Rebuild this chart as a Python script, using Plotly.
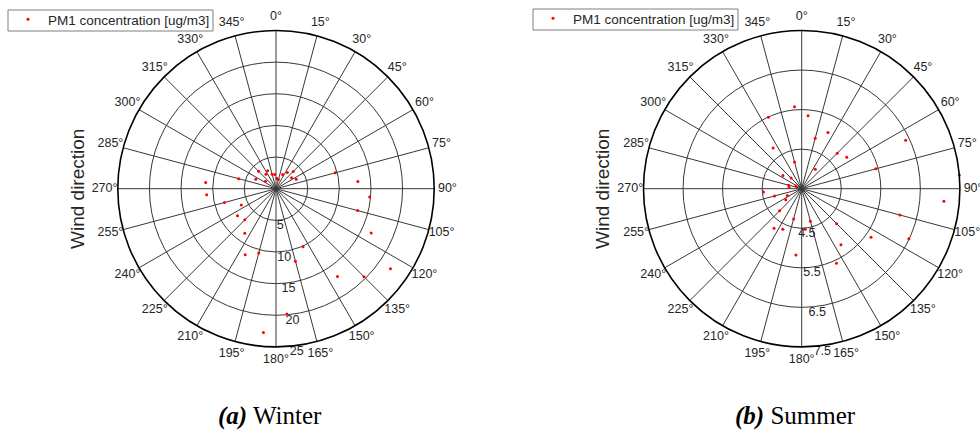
import plotly.graph_objects as go

# Wind direction bins (degrees, clockwise from north), 10-degree bins
directions = [5, 15, 25, 35, 45, 55, 65, 75, 85, 95, 105, 115,
              125, 135, 145, 155, 165, 175, 185, 195, 205, 215, 225, 235,
              245, 255, 265, 275, 285, 295, 305, 315, 325, 335, 345, 355]

# Mean PM1 concentration per direction bin [ug/m3]
pm1_winter = [1.6, 1.5, 2.48, 3.13, 3.85, 3.0, 3.52, 9.69, 12.99, 14.85, 13.35, 16.6,
              22.08, 19.65, 16.94, 10.12, 11.85, 19.87, 22.81, 10.54, 11.52, 8.6, 6.96, 7.43,
              6.05, 8.44, 11.0, 11.15, 6.1, 3.53, 2.03, 3.89, 2.77, 3.11, 2.37, 2.24]

pm1_summer = [5.35, 4.82, 5.07, 4.10, 4.77, 4.89, 6.40, 5.44, 7.50, 7.11, 6.07, 6.49,
              5.64, 4.75, 5.23, 5.58, 4.35, 4.53, 5.18, 4.29, 4.63, 4.72, 4.29, 3.99,
              3.90, 4.21, 4.47, 3.82, 3.84, 3.66, 4.08, 3.88, 4.76, 5.49, 4.20, 5.58]

winter_range = [0, 25]
winter_ticks = [5, 10, 15, 20, 25]
summer_range = [3.5, 7.5]
summer_ticks = [4.5, 5.5, 6.5, 7.5]

# Compass tick labels around each rose
angle_ticks = list(range(0, 360, 15))
angle_labels = [f"{a}°" for a in angle_ticks]

series_name = "PM1 concentration [ug/m3]"
captions = ["<b><i>(a)</i></b> Winter", "<b><i>(b)</i></b> Summer"]

W, H = 980, 432
SANS = "Liberation Sans, Arial, sans-serif"
TEXT = "#262626"
GRID = "#383838"

CY = 188.7           # vertical centre of both roses (px from top)
RADIUS = 158.2       # rose radius (px)
LABEL_RADIUS = 171.5  # ring on which the compass labels are centred (px)
CENTERS_X = (276.0, 801.7)
R_LABEL_THETA = 172.5  # direction along which the radial values are written


def dom(cx, rad):
    return dict(x=[(cx - rad) / W, (cx + rad) / W],
                y=[(H - CY - rad) / H, (H - CY + rad) / H])


fig = go.Figure()
for sub, vals, leg in (("polar", pm1_winter, "legend"), ("polar2", pm1_summer, "legend2")):
    fig.add_trace(go.Scatterpolar(
        r=vals, theta=directions, mode="markers", name=series_name,
        marker=dict(color="#ff0000", size=3), subplot=sub, legend=leg))

# Radial values written beside the southward spoke
for sub, ticks in (("polar", winter_ticks), ("polar2", summer_ticks)):
    fig.add_trace(go.Scatterpolar(
        r=ticks, theta=[R_LABEL_THETA] * len(ticks),
        text=[f"{t:g}" for t in ticks], mode="text", textposition="bottom center",
        cliponaxis=False, textfont=dict(family=SANS, size=12.5, color=TEXT),
        hoverinfo="skip", showlegend=False, subplot=sub))

# Compass labels live on a transparent ring subplot just outside each rose
for sub in ("polar3", "polar4"):
    fig.add_trace(go.Scatterpolar(
        r=[1.0] * len(angle_ticks), theta=angle_ticks, text=angle_labels,
        mode="text", textposition="middle center", cliponaxis=False,
        textfont=dict(family=SANS, size=12.5, color=TEXT),
        hoverinfo="skip", showlegend=False, subplot=sub))


def rose_layout(cx, rrange, rticks):
    return dict(
        domain=dom(cx, RADIUS),
        bgcolor="white",
        angularaxis=dict(
            direction="clockwise", rotation=90,
            tickmode="linear", tick0=0, dtick=15,
            showticklabels=False,
            showline=True, linecolor="black", linewidth=1.6,
            showgrid=True, gridcolor=GRID, gridwidth=1, ticks=""),
        radialaxis=dict(
            range=rrange, tickmode="array", tickvals=rticks,
            showticklabels=False, showline=False, ticks="",
            showgrid=True, gridcolor=GRID, gridwidth=1),
    )


def label_ring_layout(cx):
    return dict(
        domain=dom(cx, LABEL_RADIUS),
        bgcolor="rgba(0,0,0,0)",
        angularaxis=dict(direction="clockwise", rotation=90, visible=False),
        radialaxis=dict(range=[0, 1.0005], visible=False),
    )


# Legend entries sit on a transparent legend; a framed box is drawn around each
legend_style = dict(
    xanchor="left", yanchor="top",
    bgcolor="rgba(0,0,0,0)", borderwidth=0,
    font=dict(family=SANS, size=13.5, color=TEXT))

fig.update_layout(
    width=W, height=H,
    margin=dict(l=0, r=0, t=0, b=0),
    paper_bgcolor="white",
    showlegend=True,
    polar=rose_layout(CENTERS_X[0], winter_range, winter_ticks),
    polar2=rose_layout(CENTERS_X[1], summer_range, summer_ticks),
    polar3=label_ring_layout(CENTERS_X[0]),
    polar4=label_ring_layout(CENTERS_X[1]),
    legend=dict(x=8 / W, y=1 - 4 / H, **legend_style),
    legend2=dict(x=533 / W, y=1 - 3 / H, **legend_style),
)

for x0, y0 in ((8, 10), (533, 9)):
    fig.add_shape(
        type="rect", xref="paper", yref="paper", layer="above",
        x0=x0 / W, x1=(x0 + 205) / W, y0=1 - (y0 + 21) / H, y1=1 - y0 / H,
        line=dict(color="#7f7f7f", width=1), fillcolor="rgba(0,0,0,0)")

# Vertical axis labels beside each rose
for xpx in (77, 602):
    fig.add_annotation(
        x=xpx / W, y=(H - 189) / H, xref="paper", yref="paper",
        xanchor="center", yanchor="middle",
        text="Wind direction", textangle=-90, showarrow=False,
        font=dict(family=SANS, size=19, color=TEXT))

# Sub-figure captions
for xpx, cap in zip((270, 795), captions):
    fig.add_annotation(
        x=xpx / W, y=(H - 416) / H, xref="paper", yref="paper",
        text=cap, showarrow=False, xanchor="center", yanchor="middle",
        font=dict(family="Liberation Serif, Times New Roman, serif", size=25, color="black"))

fig.write_html("out.html")
